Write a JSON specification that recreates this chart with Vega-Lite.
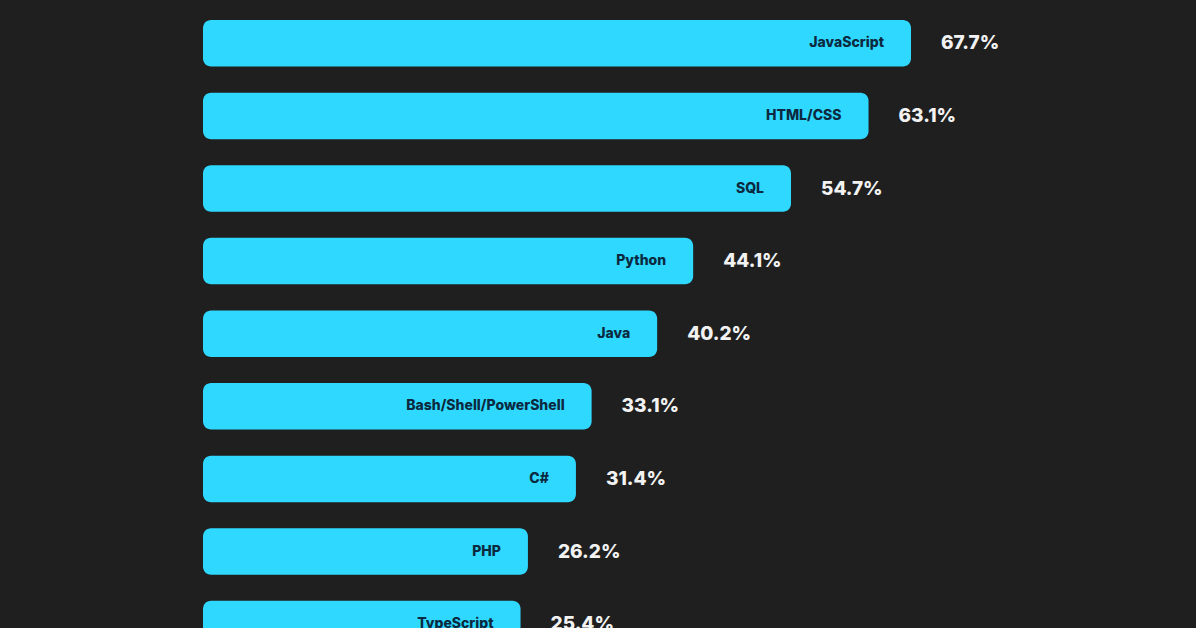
{
  "$schema": "https://vega.github.io/schema/vega-lite/v6.json",
  "description": "Most used programming languages, horizontal bars with labels inside and percentages outside.",
  "autosize": "none",
  "width": 960,
  "height": 621,
  "padding": {"top": 7, "left": 203, "right": 33, "bottom": 0},
  "background": "#1f1f1f",
  "config": {"view": {"stroke": null}},
  "data": {
    "values": [
      {"language": "JavaScript", "share": 0.677},
      {"language": "HTML/CSS", "share": 0.631},
      {"language": "SQL", "share": 0.547},
      {"language": "Python", "share": 0.441},
      {"language": "Java", "share": 0.402},
      {"language": "Bash/Shell/PowerShell", "share": 0.331},
      {"language": "C#", "share": 0.314},
      {"language": "PHP", "share": 0.262},
      {"language": "TypeScript", "share": 0.254}
    ]
  },
  "encoding": {
    "y": {
      "field": "language",
      "type": "nominal",
      "sort": null,
      "axis": null,
      "scale": {"range": [0, 653.4], "paddingInner": 0.36, "paddingOuter": 0.18}
    }
  },
  "layer": [
    {
      "mark": {"type": "bar", "color": "#2fd8ff", "cornerRadius": 8, "clip": true},
      "encoding": {
        "x": {
          "field": "share",
          "type": "quantitative",
          "axis": null,
          "scale": {"domain": [-0.09, 0.95], "zero": false, "nice": false}
        },
        "x2": {"datum": -0.09}
      }
    },
    {
      "mark": {
        "type": "text",
        "align": "right",
        "baseline": "middle",
        "dx": -27,
        "font": "Inter",
        "fontSize": 14,
        "fontWeight": 800,
        "color": "#0b2a40",
        "clip": true
      },
      "encoding": {
        "x": {"field": "share", "type": "quantitative"},
        "text": {"field": "language"}
      }
    },
    {
      "mark": {
        "type": "text",
        "align": "left",
        "baseline": "middle",
        "dx": 30,
        "font": "Inter",
        "fontSize": 19,
        "fontWeight": 800,
        "color": "#f2f2f2",
        "clip": true
      },
      "encoding": {
        "x": {"field": "share", "type": "quantitative"},
        "text": {"field": "share", "type": "quantitative", "format": ".1%"}
      }
    }
  ]
}
